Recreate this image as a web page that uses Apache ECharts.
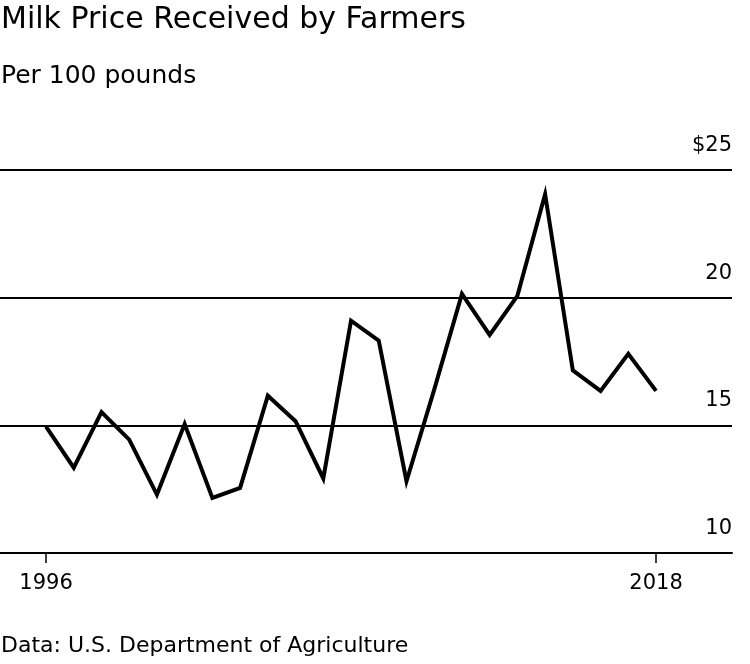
<!DOCTYPE html>
<html>
<head>
<meta charset="utf-8">
<script src="https://cdn.jsdelivr.net/npm/echarts@6/dist/echarts.min.js"></script>
<style>
html,body{margin:0;padding:0;background:#fff;}
#chart{width:750px;height:664px;}
</style>
</head>
<body>
<div id="chart"></div>
<script>
const years = [1996,1997,1998,1999,2000,2001,2002,2003,2004,2005,2006,2007,2008,2009,2010,2011,2012,2013,2014,2015,2016,2017,2018];
const prices = [14.95,13.34,15.52,14.44,12.29,15.05,12.16,12.55,16.16,15.16,12.92,19.1,18.32,12.81,16.4,20.15,18.54,20.07,24.05,17.15,16.35,17.8,16.35];
const xTickYears = [1996, 2018];
const yTicks = [10, 15, 20, 25];
const titleText = 'Milk Price Received by Farmers';
const subtitleText = 'Per 100 pounds';
const sourceText = 'Data: U.S. Department of Agriculture';

const FONT = '"DejaVu Sans", "Liberation Sans", Arial, sans-serif';
const chart = echarts.init(document.getElementById('chart'), null, {renderer: 'canvas'});
chart.setOption({
  animation: false,
  backgroundColor: '#fff',
  title: [
    {text: titleText, left: -4, top: 0, textStyle: {fontFamily: FONT, fontSize: 30, fontWeight: 'normal', color: '#000'}},
    {text: subtitleText, left: -4, top: 59, textStyle: {fontFamily: FONT, fontSize: 25, fontWeight: 'normal', color: '#000'}},
    {text: sourceText, left: -4, top: 630, textStyle: {fontFamily: FONT, fontSize: 22, fontWeight: 'normal', color: '#000'}}
  ],
  grid: {left: 0, right: 18, top: 170, bottom: 111},
  xAxis: {
    type: 'value',
    min: 1994.34,
    max: 2020.74,
    axisLine: {show: true, lineStyle: {color: '#000', width: 2}},
    axisTick: {show: true, customValues: xTickYears, length: 10, lineStyle: {color: '#000', width: 1.5}},
    axisLabel: {show: true, customValues: xTickYears, formatter: v => String(v), fontFamily: FONT, fontSize: 21, color: '#000', margin: 20},
    splitLine: {show: false}
  },
  yAxis: {
    type: 'value',
    position: 'right',
    min: 10, max: 25, interval: 5,
    axisLine: {show: false},
    axisTick: {show: false},
    splitLine: {show: true, lineStyle: {color: '#000', width: 2}},
    axisLabel: {
      inside: true,
      margin: 0,
      verticalAlign: 'bottom',
      padding: [0, 0, 14, 0],
      fontFamily: FONT, fontSize: 21, color: '#000',
      formatter: v => (v === 25 ? '$' + v : String(v))
    }
  },
  series: [{
    type: 'line',
    data: years.map((y, i) => [y, prices[i]]),
    symbol: 'none',
    lineStyle: {color: '#000', width: 4, join: 'miter'},
    z: 5
  }]
});
</script>
</body>
</html>
